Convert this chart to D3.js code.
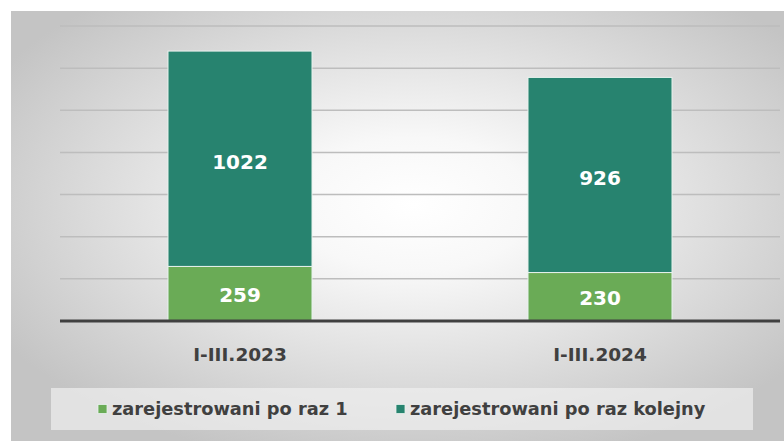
<!DOCTYPE html>
<html>
<head>
<meta charset="utf-8">
<script src="https://cdn.jsdelivr.net/npm/d3@7"></script>
<style>
  body { margin: 0; background: #fff; }
  svg { display: block; font-family: "DejaVu Sans", sans-serif; }
</style>
</head>
<body>
<div id="chart"></div>
<script>
var categories = ["I-III.2023", "I-III.2024"];
var firstTime = [259, 230];
var nextTime = [1022, 926];
var seriesNames = ["zarejestrowani po raz 1", "zarejestrowani po raz kolejny"];
var yTicks = [0, 200, 400, 600, 800, 1000, 1200, 1400];

var W = 784, H = 441;
var margin = {top: 26, right: 4, bottom: 120, left: 60};
var colors = ["#6aab56", "#27836f"];

var svg = d3.select("#chart").append("svg")
  .attr("width", W).attr("height", H);

var defs = svg.append("defs");
var grad = defs.append("radialGradient")
  .attr("id", "bg").attr("cx", "52%").attr("cy", "45%").attr("r", "62%");
grad.append("stop").attr("offset", "0%").attr("stop-color", "#ffffff");
grad.append("stop").attr("offset", "25%").attr("stop-color", "#f8f8f8");
grad.append("stop").attr("offset", "100%").attr("stop-color", "#c4c4c4");

svg.append("rect")
  .attr("x", 11).attr("y", 11).attr("width", W - 11).attr("height", H - 11)
  .attr("fill", "url(#bg)");

var x = d3.scaleBand()
  .domain(categories)
  .range([margin.left, W - margin.right])
  .paddingInner(0.6).paddingOuter(0.3);

var y = d3.scaleLinear()
  .domain([0, 1400])
  .range([321, 26]);

// gridlines
svg.append("g")
  .selectAll("line")
  .data(yTicks.slice(1))
  .enter().append("line")
  .attr("x1", margin.left).attr("x2", W - margin.right)
  .attr("y1", d => y(d)).attr("y2", d => y(d))
  .style("stroke", "#bdbdbd")
  .style("stroke-width", 1.5);

var stacked = categories.map((c, i) => [
  {cat: c, y0: 0, y1: firstTime[i], v: firstTime[i], s: 0},
  {cat: c, y0: firstTime[i], y1: firstTime[i] + nextTime[i], v: nextTime[i], s: 1}
]).flat();

var bars = svg.append("g").selectAll("g")
  .data(stacked)
  .enter().append("g");

bars.append("rect")
  .attr("x", d => x(d.cat))
  .attr("y", d => y(d.y1))
  .attr("width", x.bandwidth())
  .attr("height", d => y(d.y0) - y(d.y1))
  .style("fill", d => colors[d.s])
  .style("stroke", "#e8f2ee")
  .style("stroke-width", 1);

bars.append("text")
  .attr("x", d => x(d.cat) + x.bandwidth() / 2)
  .attr("y", d => (y(d.y0) + y(d.y1)) / 2 + (d.s ? 3 : 1))
  .attr("dy", "0.35em")
  .style("text-anchor", "middle")
  .style("fill", "#ffffff")
  .style("font-size", "20px")
  .style("font-weight", "bold")
  .text(d => d.v);

// baseline
svg.append("line")
  .attr("x1", margin.left).attr("x2", W - margin.right)
  .attr("y1", y(0)).attr("y2", y(0))
  .style("stroke", "#404040")
  .style("stroke-width", 3);

// category labels
var xAxis = d3.axisBottom(x).tickSize(0).tickPadding(0);
var gx = svg.append("g")
  .attr("transform", "translate(0," + 355 + ")")
  .call(xAxis);
gx.select(".domain").remove();
gx.selectAll("text")
  .attr("dy", "0.35em")
  .attr("y", 0)
  .style("font-family", "DejaVu Sans, sans-serif")
  .style("font-size", "18.5px")
  .style("font-weight", "bold")
  .style("fill", "#404040");

// legend
svg.append("rect")
  .attr("x", 51).attr("y", 388).attr("width", 702).attr("height", 42)
  .style("fill", "#f0f0f0").style("fill-opacity", 0.7);

var legendX = [98, 396];
var legend = svg.selectAll(".legend")
  .data(seriesNames)
  .enter().append("g")
  .attr("class", "legend")
  .attr("transform", (d, i) => "translate(" + legendX[i] + ",409)");

legend.append("rect")
  .attr("x", 0).attr("y", -4.5).attr("width", 9).attr("height", 9)
  .style("fill", (d, i) => colors[i])
  .style("stroke", "#e8f2ee").style("stroke-width", 0.8);

legend.append("text")
  .attr("x", 14).attr("dy", "0.35em")
  .style("font-size", "17.8px")
  .style("font-weight", "bold")
  .style("fill", "#404040")
  .text(d => d);
</script>
</body>
</html>
